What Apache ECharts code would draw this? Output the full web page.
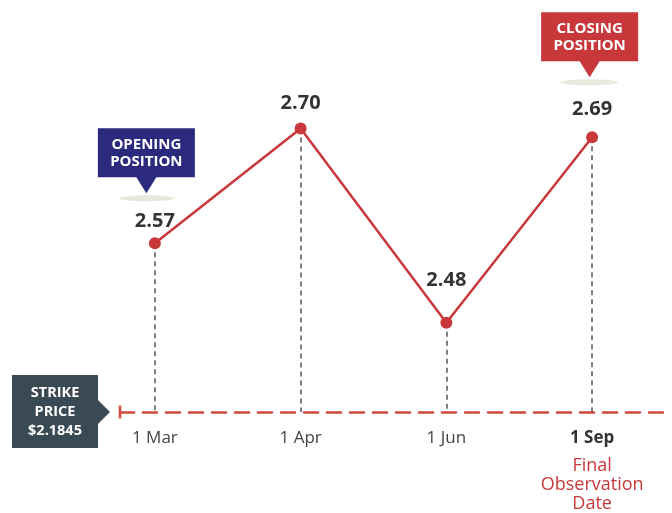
<!DOCTYPE html>
<html>
<head>
<meta charset="utf-8">
<script src="https://cdn.jsdelivr.net/npm/echarts@6/dist/echarts.min.js"></script>
<style>html,body{margin:0;padding:0;background:#fff}#c{width:672px;height:513px}</style>
</head>
<body>
<div id="c"></div>
<script>
const categories = ['1 Mar', '1 Apr', '1 Jun', '1 Sep'];
const prices = [2.57, 2.70, 2.48, 2.69];
const strikeText = ['STRIKE', 'PRICE', '$2.1845'];
const finalNote = ['Final', 'Observation', 'Date'];
const openingText = ['OPENING', 'POSITION'];
const closingText = ['CLOSING', 'POSITION'];

const yMin = 2.379, yMax = 2.8455;
const RED = '#c8383a', NAVY = '#2b2a7d', SLATE = '#3a4a54', SHADOW = '#e6e9dc';
const FONT = '"Open Sans", Lato, sans-serif';
const labelDist = [6, 9, 27, 12];
const calloutPath = 'path://M0 0H97V49H58.5L48.5 65L38.5 49H0Z';

const chart = echarts.init(document.getElementById('c'));
chart.setOption({
  animation: false,
  grid: [
    { left: 82, right: 7, top: 0, bottom: 101 },
    { left: 120, right: 7, top: 0, bottom: 101 }
  ],
  xAxis: [
    {
      type: 'category', gridIndex: 0, data: categories, boundaryGap: true,
      axisLine: { show: false }, axisTick: { show: false },
      axisLabel: {
        margin: 9, interval: 0, fontFamily: FONT,
        formatter: v => v === '1 Sep'
          ? '{b|' + v + '}\n' + finalNote.map(t => '{r|' + t + '}').join('\n')
          : '{n|' + v + '}',
        rich: {
          n: { fontSize: 17, color: '#444', lineHeight: 35, fontFamily: FONT },
          b: { fontSize: 17, color: '#333', fontWeight: 'bold', lineHeight: 35, fontFamily: FONT },
          r: { fontSize: 18, color: RED, lineHeight: 19, fontFamily: FONT }
        }
      }
    },
    {
      type: 'value', gridIndex: 1, min: 0, max: 1,
      axisLabel: { show: false }, axisTick: { show: false }, splitLine: { show: false },
      axisLine: {
        show: true, symbol: ['rect', 'none'], symbolSize: [13, 2.5],
        lineStyle: { color: '#d2473c', width: 2.5, type: [14, 9] }
      }
    }
  ],
  yAxis: [
    { type: 'value', gridIndex: 0, min: yMin, max: yMax, show: false },
    { type: 'value', gridIndex: 1, min: 0, max: 1, show: false }
  ],
  graphic: [{
    type: 'group', left: 12, top: 375,
    children: [
      { type: 'rect', shape: { x: 0, y: 0, width: 86, height: 73 }, style: { fill: SLATE } },
      { type: 'polygon', shape: { points: [[86, 25], [98, 37], [86, 49]] }, style: { fill: SLATE } },
      { type: 'text', x: 43, y: 37, style: {
        text: strikeText.join('\n'), fill: '#fff', font: 'bold 14.5px ' + FONT,
        align: 'center', verticalAlign: 'middle', lineHeight: 19 } }
    ]
  }],
  series: [{
    type: 'line', xAxisIndex: 0, yAxisIndex: 0,
    data: prices.map((v, i) => ({ value: v, label: { distance: labelDist[i] } })),
    symbol: 'circle', symbolSize: 12,
    itemStyle: { color: RED },
    lineStyle: { color: RED, width: 2.5 },
    label: { show: true, position: 'top', formatter: p => p.value.toFixed(2),
      fontSize: 20, fontWeight: 'bold', color: '#333', fontFamily: FONT },
    markLine: {
      silent: true, symbol: 'none', z: 1,
      lineStyle: { color: '#555', width: 1.5, type: [5, 4] },
      label: { show: false },
      data: prices.map((v, i) => [{ coord: [categories[i], v] }, { coord: [categories[i], yMin] }])
    },
    markPoint: {
      silent: true,
      data: [
        { coord: [categories[0], prices[0]], symbol: 'circle', symbolSize: [55, 6], symbolOffset: [-8, -45],
          itemStyle: { color: SHADOW }, label: { show: false } },
        { coord: [categories[3], prices[3]], symbol: 'circle', symbolSize: [58, 6], symbolOffset: [-3, -55],
          itemStyle: { color: SHADOW }, label: { show: false } },
        { coord: [categories[0], prices[0]], symbol: calloutPath, symbolSize: [97, 65], symbolOffset: [-8.5, -82.5],
          itemStyle: { color: NAVY },
          label: { show: true, position: 'inside', offset: [0, -8], formatter: openingText.join('\n'),
            color: '#fff', fontSize: 15, fontWeight: 'bold', lineHeight: 17, fontFamily: FONT } },
        { coord: [categories[3], prices[3]], symbol: calloutPath, symbolSize: [97, 65], symbolOffset: [-2.5, -92.5],
          itemStyle: { color: RED },
          label: { show: true, position: 'inside', offset: [0, -8], formatter: closingText.join('\n'),
            color: '#fff', fontSize: 15, fontWeight: 'bold', lineHeight: 17, fontFamily: FONT } }
      ]
    }
  }]
});
</script>
</body>
</html>
